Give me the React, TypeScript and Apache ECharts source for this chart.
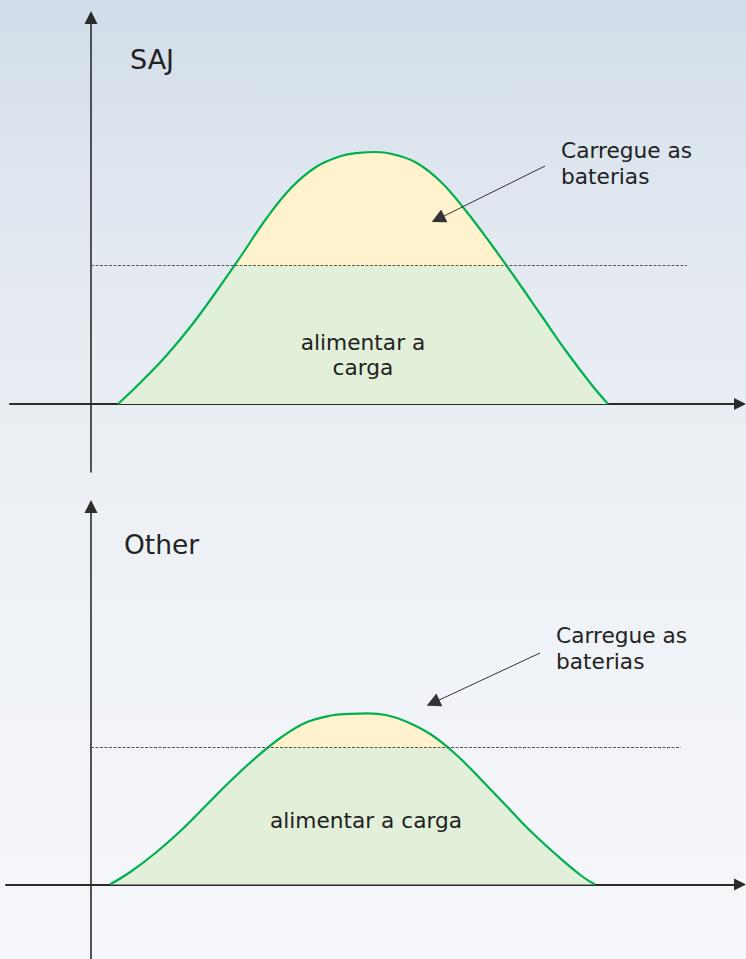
import React, { useEffect, useRef } from "react";
import * as echarts from "echarts";

// Panel titles
const panelTitles = ["SAJ", "Other"];
const chargeLabel = "Carregue as\nbaterias";
const loadLabels = ["alimentar a\ncarga", "alimentar a carga"];

// Top panel (SAJ) solar curve, x = time units, y = power units
const topCurveX = [27, 50, 75, 100, 125, 150, 175, 200, 225, 250, 268, 285, 300, 325, 350, 375, 400, 425, 450, 475, 500, 517];
const topCurveY = [0, 22, 48, 78, 112, 148, 185, 216, 237, 248, 251.2, 252, 250.3, 241.5, 222, 193, 160, 125, 89, 53, 20, 0];

// Bottom panel (Other) solar curve
const bottomCurveX = [19, 40, 65, 90, 115, 140, 165, 190, 215, 240, 258, 276, 295, 315, 340, 365, 390, 415, 440, 465, 490, 504];
const bottomCurveY = [0, 13, 32, 54, 79, 104, 127, 147, 162, 169, 170.6, 171.2, 169.5, 163, 150, 130, 105, 79, 53, 30, 9, 0];

// Load level (dashed line) per panel and its end on the x axis
const loadLevels = [138.3, 137];
const loadLineEnds = [596, 590];

// Annotation arrows (from, to) in data units
const arrowFrom = [[454, 238], [449, 231.5]];
const arrowTo = [[347, 185], [342, 181.6]];

// Axis ranges per panel
const xMin = [-81, -85];
const xMax = [649, 649];
const yMin = [-68, -74.5];
const yMax = [386.5, 378];

const GREEN_LINE = "#00b050";
const GREEN_FILL = "#e2efd9";
const YELLOW_FILL = "#fff2cc";
const AXIS = "#2b2b2b";
const TEXT = "#222222";
const FONT = "DejaVu Sans";

function zip(xs: number[], ys: number[]) {
  return xs.map((x, i) => [x, ys[i]]);
}

export default function App() {
  const ref = useRef<HTMLDivElement>(null);

  useEffect(() => {
    if (!ref.current) return;
    const chart = echarts.init(ref.current, null, { renderer: "svg" });
    const curves = [zip(topCurveX, topCurveY), zip(bottomCurveX, bottomCurveY)];

    const axisCommon = {
      type: "value" as const,
      axisTick: { show: false },
      axisLabel: { show: false },
      splitLine: { show: false },
    };

    const curveSeries = [0, 1].map((i) => ({
      type: "line",
      xAxisIndex: i,
      yAxisIndex: i,
      data: curves[i],
      smooth: 0.4,
      symbol: "none",
      showSymbol: false,
      silent: true,
      lineStyle: { color: GREEN_LINE, width: 2.2 },
      areaStyle: { opacity: 1 },
      z: 2,
    }));

    const loadSeries = [0, 1].map((i) => ({
      type: "lines",
      coordinateSystem: "cartesian2d",
      xAxisIndex: i,
      yAxisIndex: i,
      silent: true,
      symbol: ["none", "none"],
      lineStyle: { color: "#555555", width: 1, type: [3, 1.5], opacity: 1, curveness: 0 },
      data: [{ coords: [[0, loadLevels[i]], [loadLineEnds[i], loadLevels[i]]] }],
      z: 3,
    }));

    const arrowSeries = [0, 1].map((i) => ({
      type: "lines",
      coordinateSystem: "cartesian2d",
      xAxisIndex: i,
      yAxisIndex: i,
      silent: true,
      symbol: ["none", "triangle"],
      symbolSize: [12, 14],
      itemStyle: { color: "#222222" },
      lineStyle: { color: "#333333", width: 1, type: "solid", opacity: 1, curveness: 0 },
      data: [{ coords: [arrowFrom[i], arrowTo[i]] }],
      z: 4,
    }));

    const textStyle = (text: string, size: number, align: string, lineHeight?: number) => ({
      text,
      fontSize: size,
      lineHeight: lineHeight || Math.round(size * 1.2),
      fontFamily: FONT,
      fill: TEXT,
      align,
      verticalAlign: "middle",
    });

    const option: any = {
      animation: false,
      backgroundColor: "transparent",
      grid: [
        { left: 10, top: 17.5, width: 730, height: 454.5 },
        { left: 6, top: 506.5, width: 734, height: 452.5 },
      ],
      xAxis: [0, 1].map((i) => ({
        ...axisCommon,
        gridIndex: i,
        min: xMin[i],
        max: xMax[i],
        axisLine: {
          show: true,
          onZero: true,
          symbol: ["none", "triangle"],
          symbolSize: [12, 12],
          lineStyle: { color: AXIS, width: 2 },
        },
      })),
      yAxis: [0, 1].map((i) => ({
        ...axisCommon,
        gridIndex: i,
        min: yMin[i],
        max: yMax[i],
        axisLine: {
          show: true,
          onZero: true,
          symbol: ["none", "triangle"],
          symbolSize: [13, 13],
          lineStyle: { color: AXIS, width: 1.6 },
        },
      })),
      visualMap: [0, 1].map((i) => ({
        type: "piecewise",
        show: false,
        seriesIndex: i,
        dimension: 1,
        pieces: [
          { lt: loadLevels[i], color: GREEN_FILL },
          { gte: loadLevels[i], lte: 1000, color: YELLOW_FILL },
        ],
        outOfRange: { color: YELLOW_FILL },
      })),
      series: [...curveSeries, ...loadSeries, ...arrowSeries],
      graphic: [
        { type: "text", z: 100, x: 130, y: 59, style: textStyle(panelTitles[0], 27, "left") },
        { type: "text", z: 100, x: 124, y: 544, style: textStyle(panelTitles[1], 26.5, "left") },
        { type: "text", z: 100, x: 561, y: 163, style: textStyle(chargeLabel, 21.7, "left", 26) },
        { type: "text", z: 100, x: 556, y: 648, style: textStyle(chargeLabel, 21.7, "left", 26) },
        { type: "text", z: 100, x: 363, y: 355, style: textStyle(loadLabels[0], 21.7, "center", 25) },
        { type: "text", z: 100, x: 366, y: 820, style: textStyle(loadLabels[1], 21.7, "center") },
      ],
    };

    chart.setOption(option);
    return () => chart.dispose();
  }, []);

  return (
    <div
      ref={ref}
      style={{
        position: "fixed",
        left: 0,
        top: 0,
        width: 746,
        height: 959,
        background: "linear-gradient(180deg, #d2dde9 0%, #e3e9f1 25%, #ecf0f5 50%, #f6f7fa 100%)",
      }}
    />
  );
}
